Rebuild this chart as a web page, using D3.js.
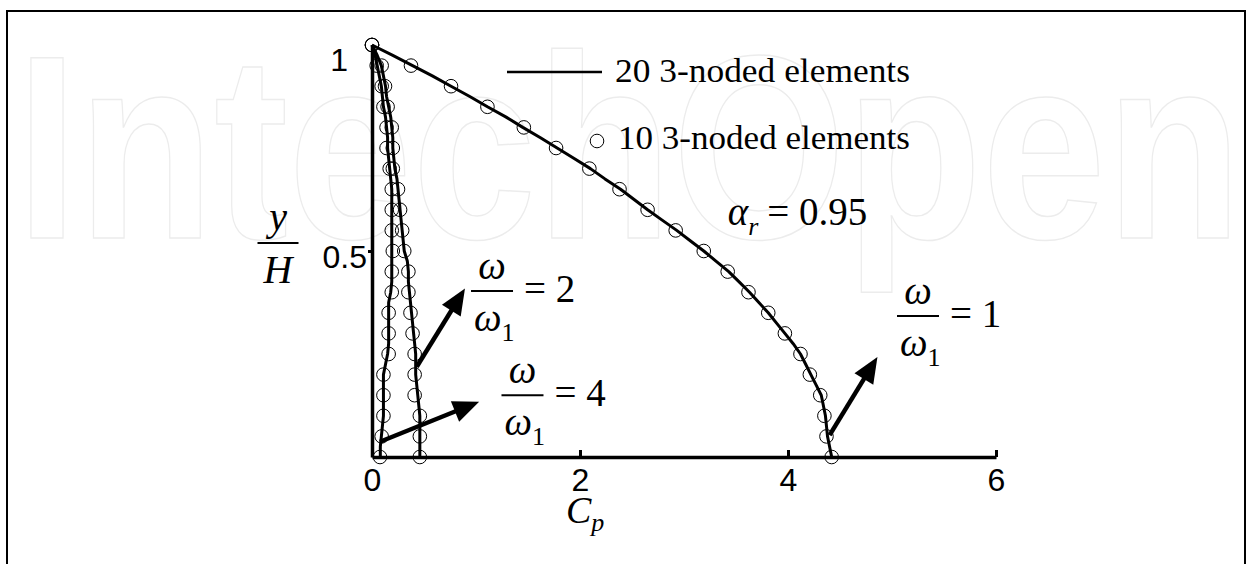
<!DOCTYPE html>
<html>
<head>
<meta charset="utf-8">
<script src="https://cdn.jsdelivr.net/npm/d3@7"></script>
<style>
  body { margin: 0; background: #fff; }
</style>
</head>
<body>
<div class="content"></div>
<script>
// node heights y/H
const yNodes10 = [1, 0.95, 0.9, 0.85, 0.8, 0.75, 0.7, 0.65, 0.6, 0.55, 0.5,
  0.45, 0.4, 0.35, 0.3, 0.25, 0.2, 0.15, 0.1, 0.05, 0];
const yNodes20 = [1, 0.975, 0.95, 0.925, 0.9, 0.875, 0.85, 0.825, 0.8, 0.775, 0.75,
  0.725, 0.7, 0.675, 0.65, 0.625, 0.6, 0.575, 0.55, 0.525, 0.5,
  0.475, 0.45, 0.425, 0.4, 0.375, 0.35, 0.325, 0.3, 0.275, 0.25,
  0.225, 0.2, 0.175, 0.15, 0.125, 0.1, 0.075, 0.05, 0.025, 0];

// Cp, 20 3-noded elements (line)
const cp20w1 = [0, 0.20, 0.39, 0.58, 0.76, 0.94, 1.11, 1.29, 1.45, 1.62, 1.78,
  1.94, 2.10, 2.24, 2.39, 2.52, 2.65, 2.79, 2.93, 3.06, 3.19,
  3.31, 3.43, 3.53, 3.63, 3.72, 3.81, 3.89, 3.97, 4.05, 4.12,
  4.17, 4.22, 4.27, 4.32, 4.34, 4.36, 4.37, 4.38, 4.40, 4.42];
const cp20w2 = [0, 0.05, 0.09, 0.11, 0.13, 0.14, 0.16, 0.18, 0.19, 0.20, 0.20,
  0.21, 0.22, 0.24, 0.25, 0.26, 0.27, 0.28, 0.29, 0.30, 0.31,
  0.34, 0.35, 0.35, 0.36, 0.37, 0.38, 0.39, 0.40, 0.41, 0.42,
  0.42, 0.42, 0.43, 0.44, 0.45, 0.46, 0.46, 0.46, 0.46, 0.46];
const cp20w4 = [0, 0.03, 0.05, 0.07, 0.09, 0.10, 0.11, 0.13, 0.14, 0.15, 0.15,
  0.16, 0.17, 0.18, 0.19, 0.19, 0.19, 0.19, 0.19, 0.19, 0.19,
  0.19, 0.19, 0.19, 0.18, 0.16, 0.16, 0.16, 0.16, 0.16, 0.15,
  0.13, 0.11, 0.11, 0.11, 0.11, 0.11, 0.10, 0.09, 0.08, 0.08];

// Cp, 10 3-noded elements (circles)
const cp10w1 = [0, 0.375, 0.76, 1.11, 1.46, 1.77, 2.09, 2.38, 2.65, 2.92, 3.19,
  3.42, 3.62, 3.81, 3.97, 4.12, 4.21, 4.31, 4.35, 4.37, 4.42];
const cp10w2 = [0, 0.093, 0.125, 0.15, 0.19, 0.20, 0.20, 0.25, 0.27, 0.29, 0.31,
  0.35, 0.35, 0.37, 0.39, 0.41, 0.41, 0.41, 0.46, 0.46, 0.46];
const cp10w4 = [0, 0.045, 0.093, 0.11, 0.14, 0.14, 0.17, 0.19, 0.19, 0.19, 0.20,
  0.19, 0.19, 0.16, 0.16, 0.16, 0.11, 0.11, 0.11, 0.093, 0.077];

const xTicks = [0, 2, 4, 6];
const yTicks = [0.5, 1];
const legendLabels = ['20 3-noded elements', '10 3-noded elements'];
const ratios = ['1', '2', '4'];
// arrows [from, to] and fraction label anchors, in data units
const arrowFrom = [[4.40, 0.053], [0.43, 0.219], [0.077, 0.037]];
const arrowTo = [[4.86, 0.243], [0.894, 0.409], [1.03, 0.134]];
const fracAt = [[5.25, 0.342], [1.154, 0.403], [1.447, 0.150]];

const [svgWidth, svgHeight] = [1253, 564];
const svg = d3.select('.content')
  .append('svg')
  .attr('width', svgWidth)
  .attr('height', svgHeight)
  .style('display', 'block');

const serif = '"Liberation Serif", "Times New Roman", serif';
const sans = '"Liberation Sans", Arial, sans-serif';
const mathSize = 39, subSize = 26;

const x = d3.scaleLinear().domain([0, 6]).range([372, 996]);
const y = d3.scaleLinear().domain([0, 1]).range([457, 45]);

// watermark
svg.append('text')
  .attr('x', 16)
  .attr('y', 238)
  .attr('textLength', 1226)
  .attr('lengthAdjust', 'spacingAndGlyphs')
  .attr('font-family', sans)
  .attr('font-weight', 'bold')
  .attr('font-size', 262)
  .attr('fill', 'none')
  .attr('stroke', '#ececec')
  .attr('stroke-width', 1.5)
  .text('IntechOpen');

svg.append('rect')
  .attr('x', 7)
  .attr('y', 11)
  .attr('width', 1238)
  .attr('height', 600)
  .attr('fill', 'none')
  .attr('stroke', '#000')
  .attr('stroke-width', 2);

const xAxis = svg.append('g')
  .attr('transform', `translate(0, ${y(0)})`)
  .call(d3.axisBottom(x).tickValues(xTicks).tickSize(-7).tickSizeOuter(0).tickFormat(d3.format('d')));
xAxis.select('.domain').attr('stroke-width', 3.5);
xAxis.selectAll('.tick line').attr('stroke-width', 3);
xAxis.selectAll('.tick text')
  .attr('y', 34)
  .attr('dy', 0)
  .attr('font-family', sans)
  .attr('font-size', 32)
  .attr('fill', '#000');

const yAxis = svg.append('g')
  .attr('transform', `translate(${x(0)}, 0)`)
  .call(d3.axisLeft(y).tickValues(yTicks).tickSize(4).tickSizeOuter(0).tickFormat(d => d));
yAxis.select('.domain').attr('stroke-width', 3.5);
yAxis.selectAll('.tick line')
  .attr('stroke-width', 3)
  .attr('display', d => d === 1 ? 'none' : null);
yAxis.selectAll('.tick text')
  .attr('x', d => d === 1 ? -24 : -5)
  .attr('dy', d => d === 1 ? 25 : 16)
  .attr('font-family', sans)
  .attr('font-size', 32)
  .attr('fill', '#000');

const line = d3.line()
  .x(d => x(d[0]))
  .y(d => y(d[1]));

const lines = [cp20w1, cp20w2, cp20w4].map(s => s.map((v, i) => [v, yNodes20[i]]));
const dots = [cp10w1, cp10w2, cp10w4].map(s => s.map((v, i) => [v, yNodes10[i]]));

svg.selectAll('path.curve')
  .data(lines)
  .enter()
  .append('path')
  .classed('curve', true)
  .attr('d', line)
  .attr('fill', 'none')
  .attr('stroke', '#000')
  .attr('stroke-width', 3)
  .attr('stroke-linejoin', 'round');

svg.selectAll('g.nodes')
  .data(dots)
  .enter()
  .append('g')
  .classed('nodes', true)
  .selectAll('circle')
  .data(d => d)
  .enter()
  .append('circle')
  .attr('cx', d => x(d[0]))
  .attr('cy', d => y(d[1]))
  .attr('r', 6.8)
  .attr('fill', 'none')
  .attr('stroke', '#000')
  .attr('stroke-width', 1);

// legend
const legend = svg.append('g');
legend.append('line')
  .attr('x1', 507).attr('x2', 602)
  .attr('y1', 72).attr('y2', 72)
  .attr('stroke', '#000')
  .attr('stroke-width', 2.5);
legend.append('circle')
  .attr('cx', 597).attr('cy', 141).attr('r', 6.8)
  .attr('fill', 'none').attr('stroke', '#000');
legend.selectAll('text')
  .data(legendLabels)
  .enter()
  .append('text')
  .attr('x', (d, i) => i === 0 ? 615 : 618)
  .attr('y', (d, i) => i === 0 ? 82 : 149)
  .attr('textLength', (d, i) => i === 0 ? 295 : 292)
  .attr('lengthAdjust', 'spacingAndGlyphs')
  .attr('font-family', serif)
  .attr('font-size', 34)
  .text(d => d);

// arrows
svg.selectAll('g.arrow')
  .data(arrowFrom.map((d, i) => [d, arrowTo[i]]))
  .enter()
  .append('g')
  .classed('arrow', true)
  .each((d, i, node) => {
    const [x0, y0] = [x(d[0][0]), y(d[0][1])];
    const [x1, y1] = [x(d[1][0]), y(d[1][1])];
    const len = Math.hypot(x1 - x0, y1 - y0);
    const [ux, uy] = [(x1 - x0) / len, (y1 - y0) / len];
    const hl = 26, hw = 11;
    const [bx, by] = [x1 - ux * hl, y1 - uy * hl];
    const g = d3.select(node[i]);
    g.append('line')
      .attr('x1', x0).attr('y1', y0)
      .attr('x2', bx + ux * 4).attr('y2', by + uy * 4)
      .attr('stroke', '#000')
      .attr('stroke-width', 4.5);
    g.append('path')
      .attr('d', `M${x1},${y1}L${bx - uy * hw},${by + ux * hw}L${bx + uy * hw},${by - ux * hw}Z`)
      .attr('fill', '#000');
  });

// omega / omega_1 = n labels
const frac = svg.selectAll('g.frac')
  .data(fracAt.map((d, i) => ({pos: d, n: ratios[i]})))
  .enter()
  .append('g')
  .classed('frac', true)
  .attr('transform', d => `translate(${x(d.pos[0])}, ${y(d.pos[1])})`)
  .attr('font-family', serif);
frac.append('line')
  .attr('x1', -21).attr('x2', 21)
  .attr('stroke', '#000').attr('stroke-width', 2);
frac.append('text')
  .attr('y', -12)
  .attr('text-anchor', 'middle')
  .attr('font-size', mathSize)
  .attr('font-style', 'italic')
  .text('ω');
const den = frac.append('text')
  .attr('x', -18)
  .attr('y', 40)
  .attr('font-size', mathSize);
den.append('tspan').attr('font-style', 'italic').text('ω');
den.append('tspan').attr('font-size', subSize).attr('dy', 10).text('1');
frac.append('text')
  .attr('x', 32)
  .attr('y', 11)
  .attr('font-size', mathSize)
  .attr('xml:space', 'preserve')
  .text(d => `= ${d.n}`);

// alpha_r = 0.95
const alpha = svg.append('text')
  .attr('x', x(3.42))
  .attr('y', y(0.563))
  .attr('font-family', serif)
  .attr('font-size', mathSize);
alpha.append('tspan').attr('font-style', 'italic').text('α');
alpha.append('tspan').attr('font-style', 'italic').attr('font-size', subSize).attr('dy', 10).text('r');
alpha.append('tspan').attr('dy', -10).attr('dx', 9).text('= 0.95');

// axis titles
const yTitle = svg.append('g')
  .attr('transform', `translate(278, 243)`)
  .attr('font-family', serif)
  .attr('font-size', 40)
  .attr('font-style', 'italic')
  .attr('text-anchor', 'middle');
yTitle.append('line').attr('x1', -20.5).attr('x2', 20.5)
  .attr('stroke', '#000').attr('stroke-width', 2);
yTitle.append('text').attr('y', -13).text('y');
yTitle.append('text').attr('y', 40).text('H');

const xTitle = svg.append('text')
  .attr('x', x(2) - 14)
  .attr('y', 523)
  .attr('font-family', serif)
  .attr('font-size', 38)
  .attr('font-style', 'italic');
xTitle.append('tspan').text('C');
xTitle.append('tspan').attr('font-size', subSize).attr('dy', 8).text('p');
</script>
</body>
</html>
